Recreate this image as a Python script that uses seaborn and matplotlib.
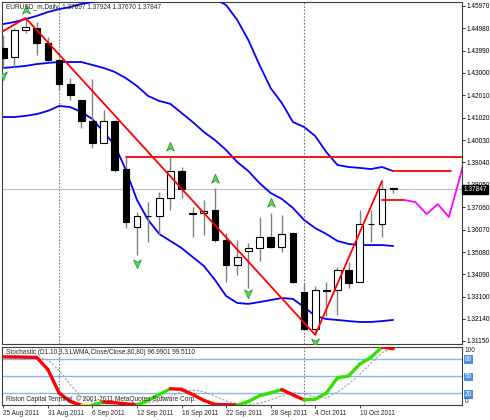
import numpy as np
import pandas as pd
import matplotlib
matplotlib.use('Agg')
import matplotlib.pyplot as plt
import matplotlib.transforms as mtrans
from matplotlib.path import Path
import seaborn as sns

sns.set_style('white')
plt.rcParams['font.family'] = ['Liberation Sans', 'DejaVu Sans']

# ---------------------------------------------------------------------------
# data (EURUSD_m daily, 25 Aug - 13 Oct 2011)
# ---------------------------------------------------------------------------
dates = pd.bdate_range('2011-08-25', '2011-10-13')
opens = [1.4410, 1.4370, 1.4490, 1.4498, 1.4432, 1.4357, 1.4251, 1.4180, 1.4087, 1.3990,
         1.4087, 1.3875, 1.3619, 1.3666, 1.3668, 1.3747, 1.3866, 1.3681, 1.3681, 1.3694,
         1.3561, 1.3451, 1.3513, 1.3526, 1.3575, 1.3530, 1.3592, 1.3332, 1.3168, 1.3340,
         1.3340, 1.3429, 1.3376, 1.3632, 1.3632, 1.37897]
highs = [1.4468, 1.4498, 1.4543, 1.4525, 1.4459, 1.4366, 1.4278, 1.4182, 1.4273, 1.4136,
         1.4092, 1.3928, 1.3685, 1.3729, 1.3774, 1.3928, 1.3884, 1.3707, 1.3738, 1.3791,
         1.3592, 1.3561, 1.3548, 1.3663, 1.3681, 1.3672, 1.3596, 1.3371, 1.3358, 1.3376,
         1.3442, 1.3464, 1.3694, 1.3694, 1.3822, 1.37924]
lows = [1.4322, 1.4322, 1.4476, 1.4379, 1.4348, 1.4224, 1.4180, 1.4056, 1.3968, 1.3988,
        1.3862, 1.3614, 1.3495, 1.3553, 1.3584, 1.3694, 1.3747, 1.3575, 1.3584, 1.3553,
        1.3376, 1.3407, 1.3349, 1.3469, 1.3526, 1.3508, 1.3372, 1.3164, 1.3142, 1.3226,
        1.3230, 1.3349, 1.3376, 1.3553, 1.3575, 1.37670]
closes = [1.4366, 1.4490, 1.4503, 1.4432, 1.4357, 1.4251, 1.4202, 1.4087, 1.3990, 1.4087,
          1.3871, 1.3641, 1.3668, 1.3668, 1.3747, 1.3866, 1.3787, 1.3677, 1.3690, 1.3561,
          1.3451, 1.3486, 1.3526, 1.3575, 1.3530, 1.3588, 1.3376, 1.3168, 1.3340, 1.3338,
          1.3429, 1.3371, 1.3632, 1.3630, 1.3787, 1.37847]

# Bollinger bands
bb_upper = [1.4516, 1.4525, 1.4538, 1.4552, 1.4569, 1.4582, 1.4591, 1.4605, 1.4613, 1.4627,
            1.4644, 1.4658, 1.4666, 1.4671, 1.4671, 1.4666, 1.4658, 1.4649, 1.4635, 1.4627,
            1.4600, 1.4534, 1.4445, 1.4335, 1.4233, 1.4167, 1.4083, 1.4061, 1.4021, 1.3950,
            1.3893, 1.3884, 1.3880, 1.3875, 1.3884, 1.3866]
bb_middle = [1.4322, 1.4326, 1.4331, 1.4339, 1.4344, 1.4348, 1.4348, 1.4348, 1.4335, 1.4322,
             1.4304, 1.4277, 1.4242, 1.4198, 1.4176, 1.4163, 1.4123, 1.4083, 1.4039, 1.4003,
             1.3959, 1.3906, 1.3866, 1.3813, 1.3769, 1.3743, 1.3703, 1.3650, 1.3614, 1.3588,
             1.3557, 1.3544, 1.3539, 1.3539, 1.3539, 1.3535]
bb_lower = [1.4105, 1.4105, 1.4110, 1.4118, 1.4132, 1.4154, 1.4149, 1.4127, 1.4096, 1.4039,
            1.3981, 1.3871, 1.3738, 1.3650, 1.3588, 1.3557, 1.3526, 1.3486, 1.3447, 1.3385,
            1.3314, 1.3283, 1.3279, 1.3287, 1.3296, 1.3305, 1.3301, 1.3265, 1.3226, 1.3212,
            1.3208, 1.3203, 1.3199, 1.3199, 1.3203, 1.3208]

# zigzag
zz_bar = [-1, 2, 28, 34]
zz_price = [1.4456, 1.4543, 1.3142, 1.3822]

# fractals
frac_up_bar = [2, 15, 19, 24]
frac_up_price = [1.4578, 1.3973, 1.3831, 1.3725]
frac_dn_bar = [0, 12, 22, 28]
frac_dn_price = [1.4291, 1.3460, 1.3327, 1.3111]

# horizontal levels
resist_price = 1.3928
resist_start = 11
level2_price = 1.3866
level2_bars = [35, 40.2]
proj_price = 1.3738
proj_bars = [34, 36]
forecast_bar = [36, 37, 38, 39, 40, 41, 42]
forecast_price = [1.3738, 1.3729, 1.3676, 1.3720, 1.3663, 1.3840, 1.4035]

last_price = 1.37847
price_ticks = [1.45970, 1.44980, 1.43990, 1.43000, 1.42010, 1.41020, 1.40030, 1.39040,
               1.38050, 1.37060, 1.36070, 1.35080, 1.34090, 1.33100, 1.32140, 1.31150]

# stochastic
stoch_main = [83, 82.8, 82.5, 82, 61, 21, 6, 0, 0, 5, 4, 2, 0, 8, 18, 28, 27, 18, 8, 1,
              0.5, 0, 6, 16, 21, 26.5, 17.6, 8.8, 10, 20.6, 47, 50, 70.6, 82, 100, 97]
stoch_signal = [84, 83, 82, 82, 78, 60, 35, 14, 5, 2, 3, 3, 3, 3, 7, 15, 23, 26, 23, 15,
                7, 2, 1, 3, 9, 16, 21, 20, 14, 12, 22, 36, 53, 72, 90, 99.5]
stoch_levels = [80, 50, 20]

separators = [5, 27]
label_bars = [0, 4, 8, 12, 16, 20, 24, 28, 32]

bars = np.arange(len(dates))
XMIN, XMAX = -0.12, 41.18
FS = 4.7

# ---------------------------------------------------------------------------
fig = plt.figure(figsize=(4.9, 4.2), dpi=100)
ax = fig.add_axes([2 / 490, 76 / 420, 460 / 490, 342 / 420])
sx = fig.add_axes([2 / 490, 15 / 420, 460 / 490, 58 / 420])

# current price line
ax.axhline(last_price, color='#c0c0c0', lw=0.8, zorder=1)
for b in separators:
    for a in (ax, sx):
        a.axvline(b, color='#777777', lw=0.8, ls=(0, (1.5, 1.5)), zorder=1)

# bands
for band in (bb_upper, bb_middle, bb_lower):
    sns.lineplot(x=bars, y=band, ax=ax, color='#0000ff', lw=1.3, zorder=3)

# candles
df = pd.DataFrame({'o': opens, 'h': highs, 'l': lows, 'c': closes}, index=bars)
ax.vlines(df.index, df['l'], df['h'], color='#808080', lw=1.0, zorder=4)
bull = df['c'] >= df['o']
body_lo = np.minimum(df['o'], df['c'])
body_h = np.abs(df['c'] - df['o'])
ax.bar(df.index[bull], body_h[bull], bottom=body_lo[bull], width=0.6,
       color='white', edgecolor='black', lw=0.8, zorder=5)
ax.bar(df.index[~bull], body_h[~bull], bottom=body_lo[~bull], width=0.6,
       color='black', edgecolor='black', lw=0.8, zorder=5)

# zigzag and levels
ax.plot(zz_bar, zz_price, color='red', lw=1.3, zorder=6)
ax.plot([resist_start, XMAX + 1], [resist_price, resist_price], color='red', lw=1.3, zorder=6)
ax.plot(level2_bars, [level2_price] * 2, color='red', lw=1.3, zorder=6)
ax.plot(proj_bars, [proj_price] * 2, color='red', lw=1.3, zorder=6)
sns.lineplot(x=forecast_bar, y=forecast_price, ax=ax, color='#ff00ff', lw=1.3, zorder=6)

# fractal arrows
up_arrow = Path([(0, 1), (0.75, -0.7), (0, -0.25), (-0.75, -0.7), (0, 1)],
                [Path.MOVETO, Path.LINETO, Path.LINETO, Path.LINETO, Path.CLOSEPOLY])
dn_arrow = Path([(0, -1), (0.75, 0.7), (0, 0.25), (-0.75, 0.7), (0, -1)],
                [Path.MOVETO, Path.LINETO, Path.LINETO, Path.LINETO, Path.CLOSEPOLY])
ax.scatter(frac_up_bar, frac_up_price, marker=up_arrow, s=55, color='#5fd35f',
           edgecolor='#2a9a2a', lw=0.6, zorder=7)
ax.scatter(frac_dn_bar, frac_dn_price, marker=dn_arrow, s=55, color='#5fd35f',
           edgecolor='#2a9a2a', lw=0.6, zorder=7)

ax.set_xlim(XMIN, XMAX)
ax.set_ylim(1.31017, 1.46134)
ax.set_xticks([])
ax.yaxis.tick_right()
ax.set_yticks(price_ticks)
ax.set_yticklabels([f'{p:.5f}' for p in price_ticks])
ax.tick_params(axis='y', labelsize=FS, length=2.2, width=0.6, pad=0.8, colors='black',
               right=True)
ax.set_xlabel('')
ax.set_ylabel('')

ax.text(0.008, 0.993, 'EURUSD_m,Daily  1.37897 1.37924 1.37670 1.37847',
        transform=ax.transAxes, fontsize=FS, va='top', ha='left', zorder=10)

trans = mtrans.blended_transform_factory(ax.transAxes, ax.transData)
ax.text(1.003, last_price, '1.37847', transform=trans, fontsize=FS, color='white',
        va='center', ha='left', zorder=12, clip_on=False,
        bbox=dict(boxstyle='square,pad=0.15', fc='black', ec='black'))

# ---------------------------------------------------------------------------
# stochastic panel
for lv in stoch_levels:
    sx.axhline(lv, color='#86b6ee', lw=1.0, zorder=1)

sns.lineplot(x=bars, y=stoch_signal, ax=sx, color='#a0a0a0', lw=0.8,
             linestyle=(0, (2, 1.5)), zorder=3)
for i in range(len(stoch_main) - 1):
    d = stoch_main[i + 1] - stoch_main[i]
    col = '#33e000' if d > 0 else ('#ff0000' if d < 0 else '#e8e000')
    sx.plot(bars[i:i + 2], stoch_main[i:i + 2], color=col, lw=2.4,
            solid_capstyle='round', zorder=4)

sx.set_xlim(XMIN, XMAX)
sx.set_ylim(0, 100)
sx.yaxis.tick_right()
sx.set_yticks([100, 80, 50, 20, 0])
sx.set_yticklabels(['100', '80', '50', '20', '0'])
sx.tick_params(axis='y', labelsize=FS, length=0, pad=2)
for lab in sx.get_yticklabels():
    t = lab.get_text()
    if t == '100':
        lab.set_va('top')
    elif t == '0':
        lab.set_va('bottom')
    else:
        lab.set_color('white')
        lab.set_bbox(dict(boxstyle='square,pad=0.1', fc='#4a90e2', ec='none'))

sx.set_xticks(label_bars)
sx.set_xticklabels([f'{d.day} {d:%b %Y}' for d in dates[label_bars]], ha='left')
sx.tick_params(axis='x', labelsize=FS, length=2.5, width=0.6, pad=1, bottom=True)
sx.set_xlabel('')
sx.set_ylabel('')

sx.text(0.008, 0.97, 'Stochastic (D1,10,3,3,LWMA,Close/Close,80,80) 96.9901 99.5110',
        transform=sx.transAxes, fontsize=FS, va='top', ha='left', zorder=10)
sx.text(0.008, 0.03, 'Riston Capital Terminal, \u00a9 2001-2011 MetaQuotes Software Corp.',
        transform=sx.transAxes, fontsize=FS, va='bottom', ha='left', zorder=10)

for a in (ax, sx):
    for sp in a.spines.values():
        sp.set_color('#404040')
        sp.set_linewidth(0.8)

fig.savefig('out.png', dpi=100, facecolor='white')
